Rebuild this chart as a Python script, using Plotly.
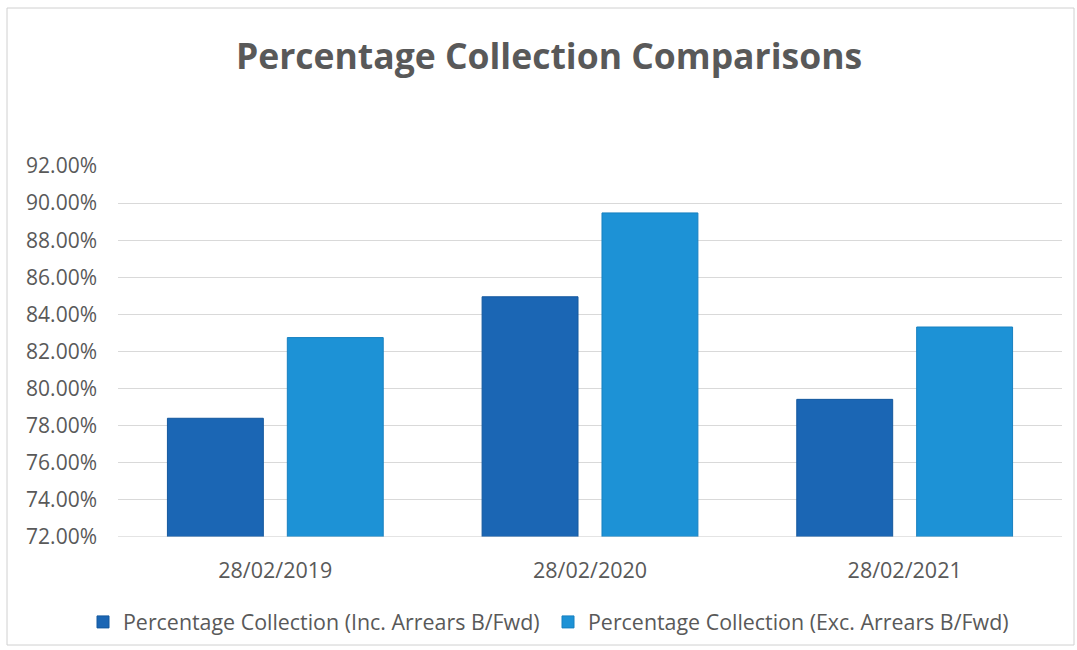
import plotly.graph_objects as go

# Collection rates at each year end
dates = ["28/02/2019", "28/02/2020", "28/02/2021"]
inc_arrears = [78.40, 84.95, 79.42]
exc_arrears = [82.75, 89.47, 83.32]
series_names = [
    "Percentage Collection (Inc. Arrears B/Fwd)",
    "Percentage Collection (Exc. Arrears B/Fwd)",
]
tick_vals = [72, 74, 76, 78, 80, 82, 84, 86, 88, 90, 92]
tick_text = [f"{v:.2f}%" for v in tick_vals]

W, H = 1077, 650
ML, MR, MT, MB = 118, 15, 166, 113
font_family = "Open Sans, Noto Sans, sans-serif"
grey = "#595959"

fig = go.Figure()
fig.add_trace(go.Bar(
    x=dates, y=inc_arrears, name=series_names[0],
    marker=dict(color="#1b66b4", line=dict(color="#14589e", width=1)),
))
fig.add_trace(go.Bar(
    x=dates, y=exc_arrears, name=series_names[1],
    marker=dict(color="#1d92d6", line=dict(color="#1780c0", width=1)),
))

pw = W - ML - MR
ph = H - MT - MB
# light outer frame around the chart
fig.add_shape(
    type="rect", xref="paper", yref="paper",
    x0=(7 - ML) / pw, x1=(1074 - ML) / pw,
    y0=-(645 - (H - MB)) / ph, y1=(MT - 8) / ph + 1,
    line=dict(color="#d0d0d0", width=1), layer="below",
)

fig.update_layout(
    width=W, height=H,
    margin=dict(l=ML, r=MR, t=MT, b=MB, autoexpand=False),
    paper_bgcolor="white", plot_bgcolor="white",
    title=dict(
        text="<b>Percentage Collection Comparisons</b>",
        x=549 / W, xanchor="center", y=1 - 57 / H, yanchor="middle",
        font=dict(family=font_family, size=35.5, color=grey),
    ),
    barmode="group", bargap=0.238, bargroupgap=0.2,
    font=dict(family=font_family, color=grey),
    xaxis=dict(
        showgrid=False, showline=False, ticks="", automargin=False,
        tickfont=dict(size=21.5, color=grey), ticklabelstandoff=18,
    ),
    yaxis=dict(
        range=[72, 92], tickvals=tick_vals, ticktext=tick_text,
        showgrid=True, gridcolor="#d9d9d9", gridwidth=1, automargin=False,
        zeroline=False, showline=False, ticks="",
        tickfont=dict(size=21, color=grey), ticklabelstandoff=20,
    ),
    legend=dict(
        orientation="h", x=(548 - ML) / pw, xanchor="center",
        y=-(622 - (H - MB)) / ph, yanchor="middle",
        font=dict(size=21.4, color=grey), itemwidth=30,
        entrywidth=420, traceorder="normal",
    ),
    showlegend=True,
)
fig.add_hline(y=72, line=dict(color="#c8c8c8", width=1))

fig.write_html("out.html")
